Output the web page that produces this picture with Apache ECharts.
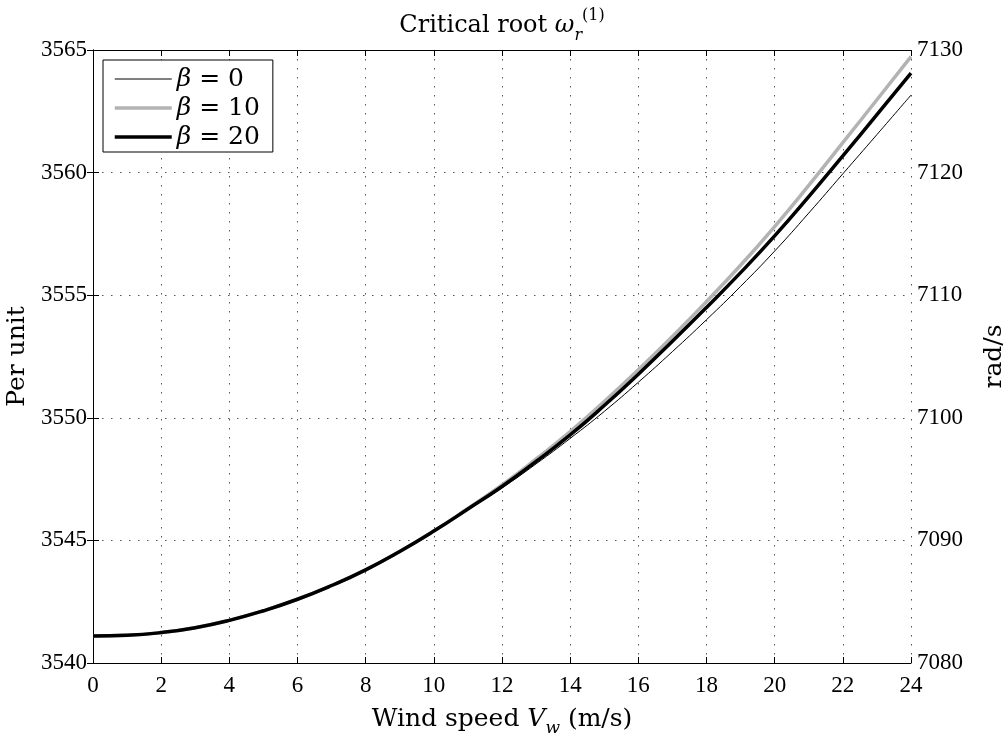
<!DOCTYPE html>
<html>
<head>
<meta charset="utf-8">
<script src="https://cdn.jsdelivr.net/npm/echarts@6/dist/echarts.min.js"></script>
<style>
html,body{margin:0;padding:0;background:#fff;}
#chart{width:1004px;height:734px;}
</style>
</head>
<body>
<div id="chart"></div>
<script>
const windSpeed = [0,1,2,3,4,5,6,7,8,9,10,11,12,13,14,15,16,17,18,19,20,21,22,23,24];
const beta0  = [3541.10,3541.13,3541.24,3541.44,3541.74,3542.13,3542.60,3543.16,3543.80,3544.55,3545.38,3546.26,3547.14,3548.12,3549.16,3550.26,3551.45,3552.70,3554.00,3555.36,3556.80,3558.35,3559.95,3561.55,3563.16];
const beta10 = [3541.10,3541.13,3541.24,3541.44,3541.74,3542.13,3542.60,3543.16,3543.80,3544.55,3545.38,3546.30,3547.26,3548.32,3549.44,3550.66,3551.96,3553.32,3554.74,3556.22,3557.80,3559.48,3561.22,3562.97,3564.73];
const beta20 = [3541.10,3541.13,3541.24,3541.44,3541.74,3542.13,3542.60,3543.16,3543.80,3544.55,3545.38,3546.28,3547.20,3548.22,3549.30,3550.50,3551.78,3553.12,3554.50,3555.92,3557.42,3559.02,3560.68,3562.36,3564.06];
const seriesNames = ['β = 0','β = 10','β = 20'];
const legendValues = ['0','10','20'];
const xTicks = {min:0,max:24,interval:2};
const yLeftTicks = {min:3540,max:3565,interval:5};
const yRightTicks = {min:7080,max:7130,interval:10};

const FONT = "'Liberation Serif', 'Times New Roman', serif";
const TFONT = "'DejaVu Serif', serif";
const chart = echarts.init(document.getElementById('chart'));
const pair = arr => windSpeed.map((v,i)=>[v,arr[i]]);
const dotted = {show:true,lineStyle:{color:'#555',width:1,type:[1.5,7.5]}};
const tick = {show:true,inside:true,length:6,lineStyle:{color:'#000',width:1}};
const line = {show:true,lineStyle:{color:'#000',width:1}};
function lab(margin){
  return {color:'#000',fontFamily:FONT,fontSize:23,margin:margin,formatter:function(v){return String(v);}};
}
const styles = [
  {color:'#000',width:1},
  {color:'#b3b3b3',width:3.5},
  {color:'#000',width:3.5}
];

chart.setOption({
  animation:false,
  backgroundColor:'#fff',
  title:{
    text:'Critical root {w|ω}{sub|r}{sup|(1)}',
    left:'center', top:3,
    textStyle:{
      color:'#000',fontFamily:TFONT,fontSize:24,fontWeight:'normal',
      rich:{
        w:{fontFamily:TFONT,fontSize:24,fontStyle:'italic',color:'#000'},
        sub:{fontFamily:TFONT,fontSize:16,fontStyle:'italic',color:'#000',verticalAlign:'bottom',lineHeight:36},
        sup:{fontFamily:TFONT,fontSize:16,color:'#000',verticalAlign:'top',lineHeight:36}
      }
    }
  },
  legend:{
    data:seriesNames.map((n,i)=>({name:n,itemStyle:{opacity:0},lineStyle:{color:styles[i].color,width:styles[i].width,opacity:1}})),
    orient:'vertical',
    left:103, top:60,
    backgroundColor:'#fff',
    borderColor:'#000', borderWidth:1, borderRadius:0,
    padding:[5,13,1,10],
    itemWidth:57, itemHeight:14, itemGap:1,
    formatter:function(name){
      const i = seriesNames.indexOf(name);
      return '{b|β} = ' + legendValues[i];
    },
    textStyle:{
      color:'#000',fontFamily:TFONT,fontSize:25,lineHeight:28,
      rich:{b:{fontFamily:TFONT,fontSize:25,fontStyle:'italic',color:'#000',lineHeight:28}}
    }
  },
  grid:{left:93,right:93,top:50,bottom:71,outerBoundsMode:'none',containLabel:false},
  xAxis:[
    {type:'value',min:xTicks.min,max:xTicks.max,interval:xTicks.interval,position:'bottom',
     axisLine:line,axisTick:tick,splitLine:dotted,
     axisLabel:lab(11),
     name:'Wind speed {v|V}{s|w} (m/s)',nameLocation:'middle',nameGap:38,
     nameTextStyle:{color:'#000',fontFamily:TFONT,fontSize:25,
       rich:{v:{fontFamily:TFONT,fontSize:25,fontStyle:'italic',color:'#000'},
             s:{fontFamily:TFONT,fontSize:17,fontStyle:'italic',color:'#000',verticalAlign:'bottom',lineHeight:36}}}},
    {type:'value',min:xTicks.min,max:xTicks.max,interval:xTicks.interval,position:'top',
     axisLine:line,axisTick:tick,splitLine:{show:false},axisLabel:{show:false}}
  ],
  yAxis:[
    {type:'value',min:yLeftTicks.min,max:yLeftTicks.max,interval:yLeftTicks.interval,position:'left',
     axisLine:line,axisTick:tick,splitLine:dotted,
     axisLabel:lab(6),
     name:'Per unit',nameLocation:'middle',nameRotate:90,nameGap:60,
     nameTextStyle:{color:'#000',fontFamily:TFONT,fontSize:25}},
    {type:'value',min:yRightTicks.min,max:yRightTicks.max,interval:yRightTicks.interval,position:'right',
     axisLine:line,axisTick:tick,splitLine:{show:false},
     axisLabel:lab(6),
     name:'rad/s',nameLocation:'middle',nameRotate:90,nameGap:71,
     nameTextStyle:{color:'#000',fontFamily:TFONT,fontSize:25}}
  ],
  series:[
    {name:seriesNames[0],type:'line',data:pair(beta0),symbol:'none',smooth:true,
     lineStyle:styles[0],itemStyle:{color:styles[0].color},z:3},
    {name:seriesNames[1],type:'line',data:pair(beta10),symbol:'none',smooth:true,
     lineStyle:styles[1],itemStyle:{color:styles[1].color},z:4},
    {name:seriesNames[2],type:'line',data:pair(beta20),symbol:'none',smooth:true,
     lineStyle:styles[2],itemStyle:{color:styles[2].color},z:5}
  ]
});
</script>
</body>
</html>
